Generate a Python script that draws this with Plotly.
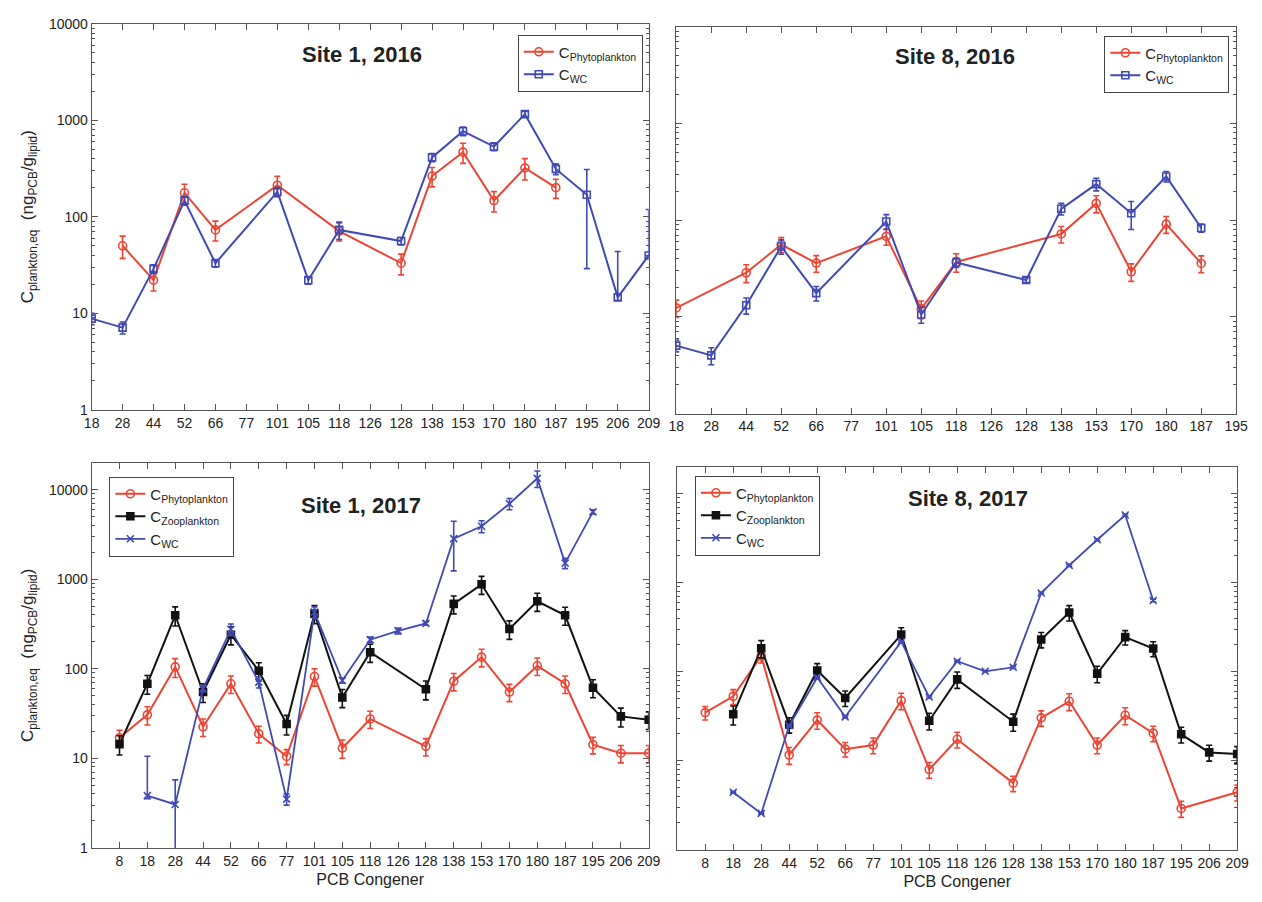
import plotly.graph_objects as go

# ---------------- data ----------------
cong_2016_s1 = ["18", "28", "44", "52", "66", "77", "101", "105", "118", "126", "128",
                "138", "153", "170", "180", "187", "195", "206", "209"]
s1_16_phyto = [None, 50, 22, 177, 73, None, 212, None, 71, None, 33, 264, 467, 147, 320, 200, None, None, None]
s1_16_phyto_err = [None, 13, 5, 40, 17, None, 50, None, 15, None, 8, 60, 110, 35, 80, 45, None, None, None]
s1_16_wc = [8.8, 7.1, 28.8, 147, 33, None, 181, 22, 73, None, 56, 412, 770, 533, 1156, 313, 169, 14.6, 39.7]
s1_16_wc_err_up = [1.2, 1.0, 3, 15, 3, None, 20, 2, 15, None, 5, 40, 80, 50, 80, 40, 140, 29, 79]
s1_16_wc_err_dn = [1.2, 1.0, 3, 15, 3, None, 20, 2, 15, None, 5, 40, 80, 50, 80, 40, 140, 1, 2]

cong_2016_s8 = ["18", "28", "44", "52", "66", "77", "101", "105", "118", "126", "128",
                "138", "153", "170", "180", "187", "195"]
s8_16_phyto = [12.4, None, 28.6, 56, 36, None, 68, 12.1, 37, None, None, 72, 149, 29.3, 91, 35.7, None]
s8_16_phyto_err = [2.5, None, 6, 10, 7, None, 13, 2.5, 8, None, None, 14, 30, 6, 18, 7, None]
s8_16_wc = [5.05, 4.0, 13.2, 53.5, 17.6, None, 97, 10.6, 36.5, None, 24.1, 131, 236, 118, 283, 83, None]
s8_16_wc_err = [0.7, 0.8, 2.5, 9, 3, None, 17, 2, 4, None, 1.5, 18, 35, 38, 35, 8, None]

cong_2017 = ["8", "18", "28", "44", "52", "66", "77", "101", "105", "118", "126", "128",
             "138", "153", "170", "180", "187", "195", "206", "209"]
s1_17_phyto = [17.0, 30.6, 105, 22.5, 68, 18.8, 10.5, 82, 13.0, 27.5, None, 13.6, 72.7, 135, 55, 108, 68, 14.2, 11.4, 11.4]
s1_17_phyto_err = [3.5, 7, 25, 5, 15, 4, 2, 18, 3, 6, None, 3, 16, 30, 12, 24, 15, 3, 2.5, 2.5]
s1_17_zoo = [14.4, 68, 396, 55, 240, 95, 24.2, 413, 47.8, 153, None, 59, 531, 878, 278, 568, 396, 61.5, 29.4, 27]
s1_17_zoo_err = [3.5, 16, 95, 13, 55, 22, 6, 95, 11, 35, None, 14, 120, 200, 65, 130, 90, 14, 7, 6]
s1_17_wc = [None, 3.83, 3.05, 60, 276, 71, 3.5, 430, 74, 211, 265, 321, 2840, 3910, 6970, 13400, 1514, 5650, None, None]
s1_17_wc_err_up = [None, 6.7, 2.7, 5, 40, 10, 0.5, 60, 5, 15, 20, 15, 1600, 600, 1000, 2800, 200, 300, None, None]
s1_17_wc_err_dn = [None, 0.3, 2.9, 5, 40, 10, 0.5, 60, 5, 15, 20, 15, 1600, 600, 1000, 2800, 200, 300, None, None]

s8_17_phyto = [34.7, 52.8, 150, 11.6, 28.6, 13.5, 15.0, 47.3, 7.97, 17.4, None, 5.6, 30.3, 46.5, 15.0, 32.4, 20.4, 2.91, None, 4.43]
s8_17_phyto_err = [6, 10, 25, 2.5, 6, 2.5, 3, 10, 1.6, 3.5, None, 1.1, 6, 10, 3, 7, 4, 0.6, None, 0.9]
s8_17_zoo = [None, 33.2, 183, 25.4, 103, 50.6, None, 261, 28.1, 82, None, 27.4, 230, 461, 95, 244, 182, 19.8, 12.4, 11.9]
s8_17_zoo_err = [None, 8, 40, 5, 20, 10, None, 50, 6, 17, None, 6, 45, 90, 20, 45, 35, 4, 2.5, 2.5]
s8_17_wc = [None, 4.43, 2.56, 24.8, 86, 31.1, None, 217, 51.9, 131, 101, 112, 764, 1560, 3030, 5740, 630, None, None, None]
s8_17_wc_err = [None, 0.1, 0.05, 0.5, 2, 0.8, None, 5, 1.5, 3, 2, 3, 20, 40, 80, 150, 20, None, None, None]

titles = ["Site 1, 2016", "Site 8, 2016", "Site 1, 2017", "Site 8, 2017"]
y_ticks = [1, 10, 100, 1000, 10000]
y_ticktext = ["1", "10", "100", "1000", "10000"]

# ---------------- styling ----------------
RED = "#EE4433"
BLUE = "#4149B5"
BLACK = "#111111"
FONT = "Liberation Sans, Arial, sans-serif"
AXC = "#555555"

LBL_P = "C<sub>Phytoplankton</sub>"
LBL_Z = "C<sub>Zooplankton</sub>"
LBL_W = "C<sub>WC</sub>"

fig = go.Figure()


def add(x, y, err_up, err_dn, name, color, symbol, xa, ya, legend, size=8, lw=2):
    fig.add_trace(go.Scatter(
        x=x, y=y, mode="lines+markers", name=name, connectgaps=True,
        line=dict(color=color, width=lw),
        marker=dict(symbol=symbol, size=size, color=color,
                    line=dict(color=color, width=1.6)),
        error_y=dict(type="data", array=err_up, arrayminus=err_dn, symmetric=False,
                     color=color, thickness=1.6, width=3),
        xaxis=xa, yaxis=ya, legend=legend,
    ))


# Panel 1: Site 1, 2016
add(cong_2016_s1, s1_16_phyto, s1_16_phyto_err, s1_16_phyto_err, LBL_P, RED, "circle-open", "x", "y", "legend")
add(cong_2016_s1, s1_16_wc, s1_16_wc_err_up, s1_16_wc_err_dn, LBL_W, BLUE, "square-open", "x", "y", "legend", size=7)
# Panel 2: Site 8, 2016
add(cong_2016_s8, s8_16_phyto, s8_16_phyto_err, s8_16_phyto_err, LBL_P, RED, "circle-open", "x2", "y2", "legend2")
add(cong_2016_s8, s8_16_wc, s8_16_wc_err, s8_16_wc_err, LBL_W, BLUE, "square-open", "x2", "y2", "legend2", size=7)
# Panel 3: Site 1, 2017
add(cong_2017, s1_17_phyto, s1_17_phyto_err, s1_17_phyto_err, LBL_P, RED, "circle-open", "x3", "y3", "legend3")
add(cong_2017, s1_17_zoo, s1_17_zoo_err, s1_17_zoo_err, LBL_Z, BLACK, "square", "x3", "y3", "legend3", size=7)
add(cong_2017, s1_17_wc, s1_17_wc_err_up, s1_17_wc_err_dn, LBL_W, BLUE, "x-thin-open", "x3", "y3", "legend3", size=7, lw=1.8)
# Panel 4: Site 8, 2017
add(cong_2017, s8_17_phyto, s8_17_phyto_err, s8_17_phyto_err, LBL_P, RED, "circle-open", "x4", "y4", "legend4")
add(cong_2017, s8_17_zoo, s8_17_zoo_err, s8_17_zoo_err, LBL_Z, BLACK, "square", "x4", "y4", "legend4", size=7)
add(cong_2017, s8_17_wc, s8_17_wc_err, s8_17_wc_err, LBL_W, BLUE, "x-thin-open", "x4", "y4", "legend4", size=7, lw=1.8)

W, H = 1262, 902
# panel frames in pixels (left, right, top, bottom)
frames = [(85, 651, 16, 409), (679, 1248, 19, 413), (85, 651, 463, 855), (680, 1249, 467, 857)]
xranges = [[0, 18], [0, 16], [-1, 19], [-1, 19]]
yranges = [[0, 4], [0, 4], [0, 4.301], [0, 4.301]]
cats = [cong_2016_s1, cong_2016_s8, cong_2017, cong_2017]

layout = dict(
    width=W, height=H, margin=dict(l=0, r=0, t=0, b=0),
    paper_bgcolor="white", plot_bgcolor="white",
    font=dict(family=FONT, size=14, color="#222222"),
)

ytitle = "C<sub>plankton,eq</sub>  (ng<sub>PCB</sub>/g<sub>lipid</sub>)"
for i, (l, r, t, b) in enumerate(frames):
    sx = "" if i == 0 else str(i + 1)
    xd = [l / W, r / W]
    yd = [1 - b / H, 1 - t / H]
    xaxis = dict(
        domain=xd, type="category", categoryorder="array", categoryarray=cats[i],
        range=xranges[i], anchor="y" + sx,
        showline=True, linecolor=AXC, linewidth=1, mirror="ticks",
        ticks="inside", ticklen=6, tickcolor=AXC, showgrid=False, zeroline=False,
        tickfont=dict(size=14, color="#222222"),
    )
    if i >= 2:
        xaxis["title"] = dict(text="PCB Congener", font=dict(size=16, color="#222222"), standoff=6)
    yaxis = dict(
        domain=yd, type="log", range=yranges[i], anchor="x" + sx,
        showline=True, linecolor=AXC, linewidth=1, mirror="ticks",
        ticks="inside", ticklen=6, tickcolor=AXC, showgrid=False, zeroline=False,
        tickvals=y_ticks, ticktext=y_ticktext, showticklabels=(i % 2 == 0),
        tickfont=dict(size=14, color="#222222"),
        minor=dict(ticks="inside", ticklen=3, tickcolor=AXC, dtick="D1", showgrid=False),
    )
    if i % 2 == 0:
        yaxis["title"] = dict(text=ytitle, font=dict(size=17, color="#222222"), standoff=10)
    layout["xaxis" + sx] = xaxis
    layout["yaxis" + sx] = yaxis

legend_pos = [(518, 27), (1114, 28), (103, 477), (698, 476)]
for i, (lx, ly) in enumerate(legend_pos):
    key = "legend" if i == 0 else "legend" + str(i + 1)
    layout[key] = dict(
        x=lx / W, y=1 - ly / H, xanchor="left", yanchor="top",
        bgcolor="white", bordercolor="#444444", borderwidth=1,
        font=dict(size=15, color="#222222"), itemwidth=30, tracegroupgap=0,
    )

title_pos = [(360, 47), (962, 49), (359, 506), (975, 499)]
annotations = []
for (tx, ty), txt in zip(title_pos, titles):
    annotations.append(dict(
        x=tx / W, y=1 - ty / H, xref="paper", yref="paper", text="<b>" + txt + "</b>",
        showarrow=False, xanchor="center", yanchor="middle",
        font=dict(size=22, color="#222222", family=FONT),
    ))
layout["annotations"] = annotations

fig.update_layout(**layout)
fig.write_html(
    "out.html",
    config={"displayModeBar": False},
    post_script="document.body.style.margin='0';document.body.style.overflow='hidden';"
                "document.documentElement.style.overflow='hidden';",
)
